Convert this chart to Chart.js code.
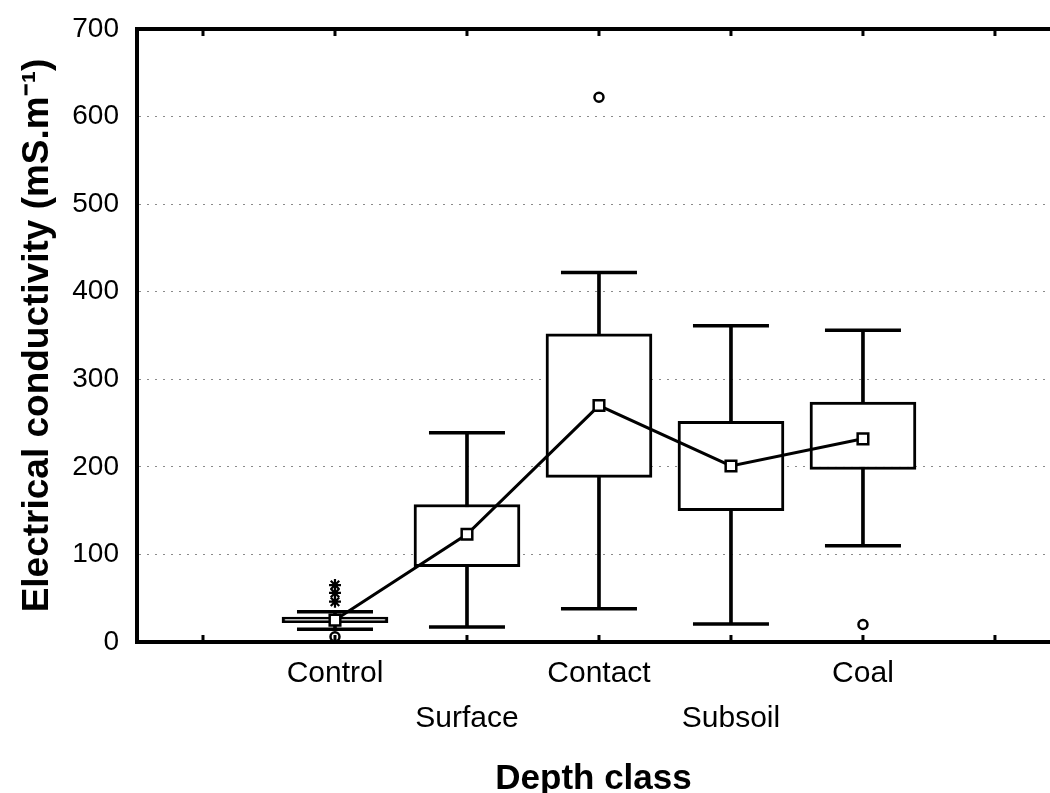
<!DOCTYPE html>
<html><head><meta charset="utf-8">
<script src="https://cdn.jsdelivr.net/npm/chart.js@4/dist/chart.umd.min.js"></script>
<style>html,body{margin:0;padding:0;background:#fff;}canvas{display:block;}</style>
</head><body>
<canvas id="c" width="1050" height="793"></canvas>
<script>
const categories = ['Control','Surface','Contact','Subsoil','Coal'];
const medians = [25, 123, 270, 201, 232];
const q1 = [22, 86, 188, 150, 197];
const q3 = [28.5, 157, 352, 252, 274];
const whiskerLow = [14.5, 17, 38, 20.5, 110];
const whiskerHigh = [34.5, 239, 422, 361, 356];
const outliers = [[6], [], [622], [], [20]];
const extremes = [[46, 56, 65], [], [], [], []];
const yTicks = [0, 100, 200, 300, 400, 500, 600, 700];
const xSlots = [0, 1, 2, 3, 4, 5, 6];

const FONT = '"Liberation Sans", Arial, Helvetica, sans-serif';
const pos = i => i + 1;

const stemData = categories.map((c, i) => ({x: pos(i), y: [whiskerLow[i], whiskerHigh[i]]}));
const boxData = categories.map((c, i) => ({x: pos(i), y: [q1[i], q3[i]]}));
const capData = [];
categories.forEach((c, i) => { capData.push({x: pos(i), y: whiskerLow[i]}); capData.push({x: pos(i), y: whiskerHigh[i]}); });
const medianData = categories.map((c, i) => ({x: pos(i), y: medians[i]}));
const outlierData = [];
outliers.forEach((arr, i) => arr.forEach(v => outlierData.push({x: pos(i), y: v})));
const extremeData = [];
extremes.forEach((arr, i) => arr.forEach(v => extremeData.push({x: pos(i), y: v})));

const zeroPad = s => { s.paddingLeft = 0; s.paddingRight = 0; s.paddingTop = 0; s.paddingBottom = 0; };

const framePlugin = {
  id: 'frame',
  afterDatasetsDraw(chart) {
    const {ctx, chartArea: a, scales: {x}} = chart;
    ctx.save();
    ctx.strokeStyle = '#000';
    ctx.lineWidth = 4;
    ctx.beginPath(); ctx.moveTo(a.left - 2, a.top); ctx.lineTo(a.right, a.top); ctx.stroke();
    ctx.lineWidth = 3;
    x.ticks.forEach(t => {
      const px = x.getPixelForValue(t.value);
      ctx.beginPath();
      ctx.moveTo(px, a.top); ctx.lineTo(px, a.top + 7);
      ctx.moveTo(px, a.bottom); ctx.lineTo(px, a.bottom - 7);
      ctx.stroke();
    });
    ctx.restore();
  }
};

new Chart(document.getElementById('c'), {
  type: 'bar',
  data: {
    datasets: [
      {type: 'bar', data: stemData, backgroundColor: '#000', borderWidth: 0, barThickness: 3, grouped: false, order: 5},
      {type: 'bar', data: boxData, backgroundColor: '#fff', borderColor: '#000', borderWidth: 3, borderSkipped: false, barThickness: 106, grouped: false, order: 4},
      {type: 'line', data: capData, showLine: false, pointStyle: 'line', pointRadius: 38, borderColor: '#000', pointBorderWidth: 3.5, order: 3},
      {type: 'line', data: medianData, borderColor: '#000', borderWidth: 3, pointStyle: 'rect', pointRadius: 7.5, pointBackgroundColor: '#fff', pointBorderColor: '#000', pointBorderWidth: 2.5, order: 2},
      {type: 'line', data: outlierData, showLine: false, pointStyle: 'circle', pointRadius: 4.5, pointBackgroundColor: '#fff', pointBorderColor: '#000', pointBorderWidth: 2.5, order: 1},
      {type: 'line', data: extremeData, showLine: false, pointStyle: 'star', pointRadius: 6, pointBorderColor: '#000', pointBorderWidth: 2.2, order: 0}
    ]
  },
  options: {
    responsive: false,
    devicePixelRatio: 1,
    animation: false,
    events: [],
    layout: {padding: {top: 29, right: 0, bottom: 0, left: 0}, autoPadding: false},
    plugins: {legend: {display: false}, tooltip: {enabled: false}},
    scales: {
      x: {
        type: 'linear', position: 'bottom', min: -0.5, max: 6.417, offset: false,
        afterBuildTicks: s => { s.ticks = xSlots.map(v => ({value: v})); },
        afterFit: s => { s.height = 151; zeroPad(s); },
        grid: {display: false, drawTicks: false},
        border: {display: true, width: 4, color: '#000'},
        ticks: {
          autoSkip: false, maxRotation: 0, minRotation: 0, padding: 9, color: '#000',
          font: {family: FONT, size: 30, lineHeight: 1.5},
          callback: v => {
            const i = Math.round(v) - 1;
            if (i < 0 || i >= categories.length) return '';
            return i % 2 === 1 ? ['', categories[i]] : categories[i];
          }
        },
        title: {display: true, text: 'Depth class', color: '#000', font: {family: FONT, size: 35, weight: 'bold', lineHeight: 0.8}, padding: {top: 0, bottom: 0}}
      },
      y: {
        type: 'linear', min: 0, max: 700,
        afterBuildTicks: s => { s.ticks = yTicks.map(v => ({value: v})); },
        afterFit: s => { s.width = 137; zeroPad(s); },
        grid: {drawTicks: false, lineWidth: 1, color: c => (c.tick && c.tick.value > 0 && c.tick.value < 700) ? '#8a8a8a' : 'rgba(0,0,0,0)'},
        border: {display: true, width: 4, color: '#000', dash: [2, 6]},
        ticks: {padding: 18, color: '#000', font: {family: FONT, size: 28}},
        title: {display: true, text: 'Electrical conductivity (mS.m⁻¹)', color: '#000', font: {family: FONT, size: 37, weight: 'bold', lineHeight: 1.2}, padding: {top: 16, bottom: 0}}
      }
    }
  },
  plugins: [framePlugin]
});
</script>
</body></html>
